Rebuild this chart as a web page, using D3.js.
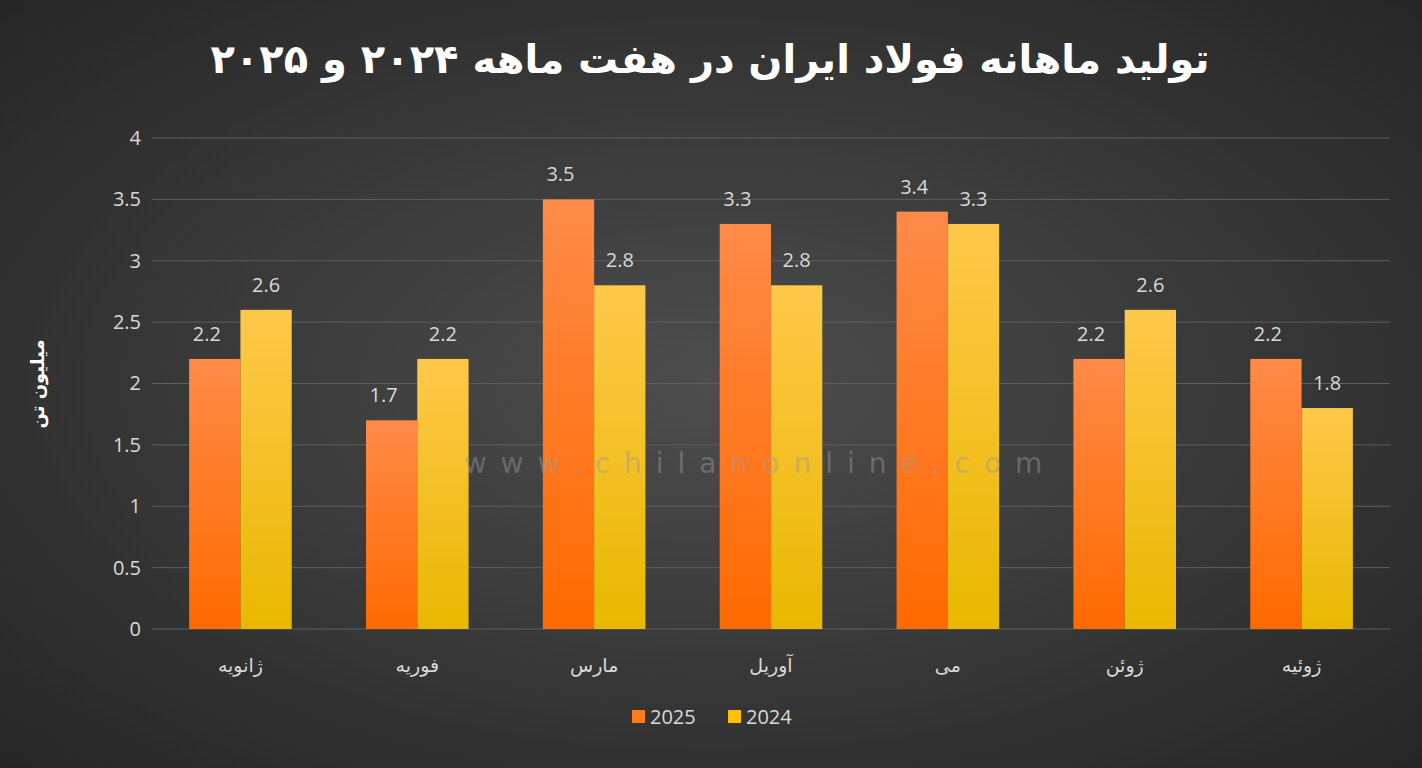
<!DOCTYPE html>
<html><head><meta charset="utf-8">
<script src="https://cdn.jsdelivr.net/npm/d3@7"></script>
<style>body{margin:0;background:#333}</style></head>
<body><svg id="c" width="1422" height="768"></svg>
<script>
const categories=["ژانویه","فوریه","مارس","آوریل","می","ژوئن","ژوئیه"];
const series2025=[2.2,1.7,3.5,3.3,3.4,2.2,2.2];
const series2024=[2.6,2.2,2.8,2.8,3.3,2.6,1.8];
const seriesNames=["2025","2024"];
const yTicks=[0,0.5,1,1.5,2,2.5,3,3.5,4];
const title="تولید ماهانه فولاد ایران در هفت ماهه ۲۰۲۴ و ۲۰۲۵";
const yLabel="میلیون تن";

const svg=d3.select("#c");
const defs=svg.append("defs");
const bg=defs.append("radialGradient").attr("id","bg").attr("cx","50%").attr("cy","50%").attr("r","70%");
bg.append("stop").attr("offset","0%").attr("stop-color","#4d4d4d");
bg.append("stop").attr("offset","100%").attr("stop-color","#262626");
const g1=defs.append("linearGradient").attr("id","o").attr("x1",0).attr("x2",0).attr("y1",0).attr("y2",1);
g1.append("stop").attr("offset","0%").attr("stop-color","#ff8a48");
g1.append("stop").attr("offset","100%").attr("stop-color","#ff6a00");
const g2=defs.append("linearGradient").attr("id","y").attr("x1",0).attr("x2",0).attr("y1",0).attr("y2",1);
g2.append("stop").attr("offset","0%").attr("stop-color","#ffc84a");
g2.append("stop").attr("offset","100%").attr("stop-color","#e8b800");
svg.append("rect").attr("width",1422).attr("height",768).attr("fill","url(#bg)");

const x=d3.scaleBand().domain(categories).range([152,1390]).paddingInner(0.42).paddingOuter(0.21);
const y=d3.scaleLinear().domain([0,4]).range([629,138]);

svg.append("g").selectAll("line").data(yTicks).join("line")
 .attr("x1",152).attr("x2",1390).attr("y1",d=>y(d)).attr("y2",d=>y(d))
 .attr("stroke","#5e5e5e").attr("stroke-width",1);

const yAxis=svg.append("g").attr("transform","translate(138,0)")
 .call(d3.axisLeft(y).tickValues(yTicks).tickSize(0).tickFormat(d3.format("")));
yAxis.select(".domain").remove();
yAxis.selectAll("text").attr("fill","#d9d9d9").attr("font-size",20).attr("font-family","Open Sans").attr("dx",6);

const sub=d3.scaleBand().domain(seriesNames).range([0,x.bandwidth()]);
const data=categories.map((c,i)=>({c,vals:[series2025[i],series2024[i]]}));
const grp=svg.append("g").selectAll("g").data(data).join("g").attr("transform",d=>`translate(${x(d.c)},0)`);
grp.selectAll("rect").data(d=>d.vals.map((v,j)=>({v,j}))).join("rect")
 .attr("x",d=>sub(seriesNames[d.j])).attr("width",sub.bandwidth())
 .attr("y",d=>y(d.v)).attr("height",d=>629-y(d.v))
 .attr("fill",d=>d.j?"url(#y)":"url(#o)");
grp.selectAll("text").data(d=>d.vals.map((v,j)=>({v,j}))).join("text")
 .attr("x",d=>sub(seriesNames[d.j])+sub.bandwidth()/2+(d.j?0:-8)).attr("y",d=>y(d.v)-18)
 .attr("text-anchor","middle").attr("fill","#d9d9d9").attr("font-size",20).attr("font-family","Open Sans")
 .text(d=>d.v);

// watermark on top
svg.append("text").attr("x",760).attr("y",473).attr("text-anchor","middle")
 .attr("fill","#9a9a9a").attr("opacity",0.45).attr("font-size",28).attr("letter-spacing",14)
 .attr("font-family","DejaVu Sans").text("www.chilanonline.com");

svg.append("g").selectAll("text").data(categories).join("text")
 .attr("x",d=>x(d)+x.bandwidth()/2).attr("y",672).attr("text-anchor","middle")
 .attr("fill","#d9d9d9").attr("font-size",19).attr("font-family","DejaVu Sans").text(d=>d);

svg.append("text").attr("x",710).attr("y",73).attr("text-anchor","middle")
 .attr("fill","#ffffff").attr("font-size",40).attr("font-weight","bold").attr("font-family","DejaVu Sans")
 .attr("direction","rtl").text(title);

svg.append("text").attr("transform","translate(44,384) rotate(-90)").attr("text-anchor","middle")
 .attr("fill","#ffffff").attr("font-size",18).attr("font-weight","bold").attr("font-family","DejaVu Sans").text(yLabel);

const lg=svg.append("g").selectAll("g").data(seriesNames).join("g")
 .attr("transform",(d,i)=>`translate(${632+i*96},722)`);
lg.append("rect").attr("width",13).attr("height",13).attr("y",-12).attr("fill",(d,i)=>i?"#ffc000":"#ff7a20");
lg.append("text").attr("x",18).attr("y",2).attr("fill","#d9d9d9").attr("font-size",20).attr("font-family","Open Sans").text(d=>d);
</script></body></html>
